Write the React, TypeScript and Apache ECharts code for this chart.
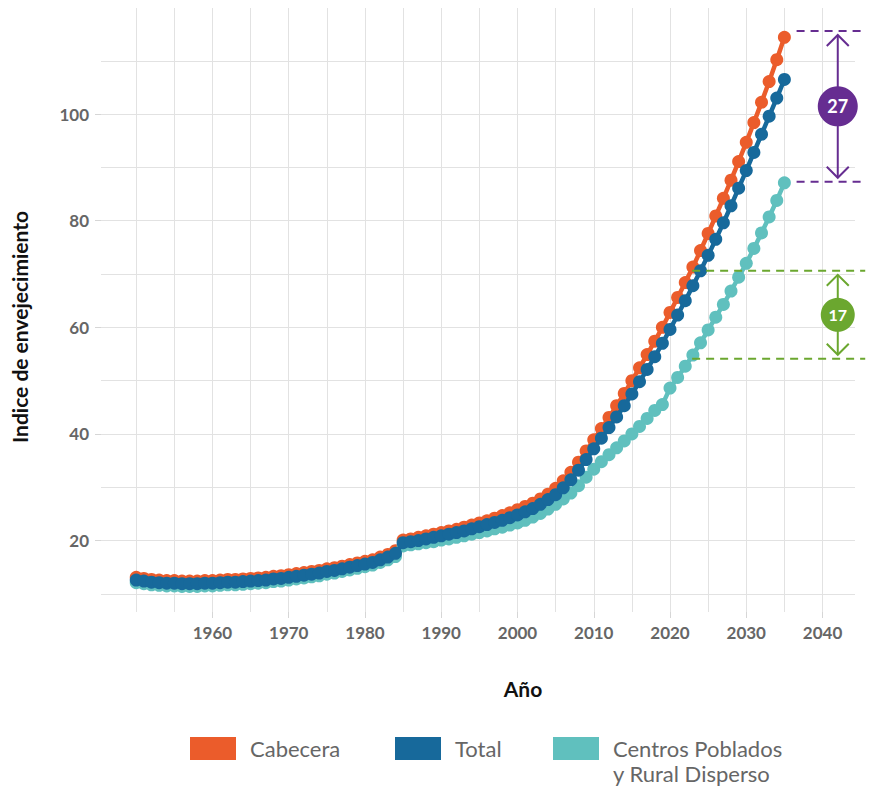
import React, { useEffect, useRef } from "react";
import * as echarts from "echarts";

const years = [
  1950, 1951, 1952, 1953, 1954, 1955, 1956, 1957, 1958, 1959,
  1960, 1961, 1962, 1963, 1964, 1965, 1966, 1967, 1968, 1969,
  1970, 1971, 1972, 1973, 1974, 1975, 1976, 1977, 1978, 1979,
  1980, 1981, 1982, 1983, 1984, 1985, 1986, 1987, 1988, 1989,
  1990, 1991, 1992, 1993, 1994, 1995, 1996, 1997, 1998, 1999,
  2000, 2001, 2002, 2003, 2004, 2005, 2006, 2007, 2008, 2009,
  2010, 2011, 2012, 2013, 2014, 2015, 2016, 2017, 2018, 2019,
  2020, 2021, 2022, 2023, 2024, 2025, 2026, 2027, 2028, 2029,
  2030, 2031, 2032, 2033, 2034, 2035,
];

const cabecera = [
  13.1, 12.9, 12.7, 12.6, 12.5, 12.5, 12.4, 12.4, 12.4, 12.5,
  12.5, 12.6, 12.7, 12.7, 12.8, 12.9, 13.0, 13.1, 13.3, 13.4,
  13.6, 13.8, 14.0, 14.2, 14.4, 14.7, 14.9, 15.2, 15.5, 15.8,
  16.1, 16.4, 16.9, 17.4, 18.1, 20.1, 20.3, 20.6, 20.9, 21.2,
  21.5, 21.8, 22.1, 22.5, 22.9, 23.3, 23.7, 24.2, 24.7, 25.2,
  25.8, 26.4, 27.0, 27.8, 28.7, 29.8, 31.2, 32.8, 34.7, 36.8,
  38.9, 41.0, 43.1, 45.3, 47.6, 50.0, 52.4, 54.9, 57.4, 60.0,
  62.8, 65.6, 68.4, 71.3, 74.4, 77.6, 80.9, 84.2, 87.6, 91.1,
  94.7, 98.4, 102.2, 106.1, 110.2, 114.4,
];

const total = [
  12.6, 12.4, 12.2, 12.1, 12.0, 12.0, 11.9, 11.9, 11.9, 12.0,
  12.0, 12.1, 12.2, 12.2, 12.3, 12.4, 12.5, 12.6, 12.8, 12.9,
  13.1, 13.3, 13.5, 13.7, 13.9, 14.2, 14.4, 14.7, 15.0, 15.3,
  15.6, 15.9, 16.4, 16.9, 17.6, 19.6, 19.8, 20.0, 20.3, 20.6,
  20.9, 21.2, 21.5, 21.8, 22.2, 22.6, 23.0, 23.4, 23.8, 24.3,
  24.8, 25.4, 26.0, 26.8, 27.7, 28.6, 29.9, 31.4, 33.2, 35.2,
  37.2, 39.2, 41.2, 43.2, 45.3, 47.5, 49.8, 52.1, 54.5, 57.0,
  59.6, 62.3, 65.0, 67.8, 70.6, 73.5, 76.5, 79.6, 82.8, 86.1,
  89.4, 92.8, 96.2, 99.6, 103.0, 106.5,
];

const centros = [
  12.1, 11.9, 11.7, 11.6, 11.5, 11.5, 11.4, 11.4, 11.4, 11.5,
  11.5, 11.6, 11.7, 11.7, 11.8, 11.9, 12.0, 12.1, 12.3, 12.4,
  12.6, 12.8, 13.0, 13.2, 13.4, 13.7, 13.9, 14.2, 14.5, 14.8,
  15.1, 15.4, 15.9, 16.4, 17.0, 19.0, 19.2, 19.4, 19.6, 19.8,
  20.1, 20.3, 20.6, 20.9, 21.2, 21.5, 21.8, 22.2, 22.5, 22.9,
  23.3, 23.8, 24.4, 25.1, 25.9, 26.8, 27.8, 28.9, 30.3, 31.9,
  33.4, 34.8, 36.1, 37.4, 38.7, 40.0, 41.4, 42.9, 44.4, 45.5,
  48.6, 50.6, 52.7, 54.8, 57.1, 59.5, 61.9, 64.3, 66.8, 69.4,
  72.0, 74.8, 77.7, 80.7, 83.8, 87.1,
];

const xGridValues = [1950, 1955, 1960, 1965, 1970, 1975, 1980, 1985, 1990, 1995, 2000, 2005, 2010, 2015, 2020, 2025, 2030, 2035, 2040];
const xLabelValues = [1960, 1970, 1980, 1990, 2000, 2010, 2020, 2030, 2040];
const yGridValues = [10, 20, 30, 40, 50, 60, 70, 80, 90, 100, 110];
const yLabelValues = [20, 40, 60, 80, 100];

const nameCabecera = "Cabecera";
const nameTotal = "Total";
const nameCentros = "Centros Poblados\ny Rural Disperso";

const xTitle = "Año";
const yTitle = "Indice de envejecimiento";

// Gap annotations (data units)
const gapCabeceraCentros2035 = { label: "27", upper: 115.6, lower: 87.3, startYear: 2036.6 };
const gapCabeceraCentros2023 = { label: "17", upper: 70.6, lower: 54.1, startYear: 2022.9 };
const annotationEndYear = 2045.6;
const arrowYear = 2042.0;

const COLORS = {
  cabecera: "#EB5C2B",
  total: "#17699B",
  centros: "#60C0BE",
  purple: "#662D91",
  green: "#6BA72F",
  grid: "#e2e2e2",
  tick: "#d6d6d6",
  label: "#666666",
};
const FONT = "Lato, 'Noto Sans', sans-serif";

export default function App() {
  const ref = useRef<HTMLDivElement>(null);

  useEffect(() => {
    if (!ref.current) return;
    const chart = echarts.init(ref.current, undefined, { renderer: "svg" });
    const xMin = 1945.38;
    const xMax = 2044.26;
    const yMin = 6.6;
    const yMax = 119.9;

    const mkSeries = (name: string, values: number[], color: string, z: number) => ({
      name,
      type: "line",
      xAxisIndex: 0,
      yAxisIndex: 0,
      data: years.map((yr, i) => [yr, values[i]]),
      symbol: "circle",
      symbolSize: 13,
      showSymbol: true,
      lineStyle: { color, width: 4.5 },
      itemStyle: { color },
      emphasis: { disabled: true },
      z,
    });

    const legendBase = {
      orient: "horizontal",
      padding: 0,
      itemWidth: 46,
      itemHeight: 23,
      icon: "rect",
      selectedMode: false,
    };
    const legendText = {
      fontFamily: FONT,
      fontSize: 22,
      color: COLORS.label,
      lineHeight: 23,
      padding: [0, 0, 0, 9],
    };

    chart.setOption({
      animation: false,
      grid: { left: 101, right: 15, top: 8, bottom: 176, containLabel: false },
      xAxis: [
        {
          type: "value",
          position: "bottom",
          min: xMin,
          max: xMax,
          axisLine: { show: false },
          axisTick: { show: false, customValues: xGridValues },
          axisLabel: { show: false },
          splitLine: { show: true, lineStyle: { color: COLORS.grid, width: 1 } },
        },
        {
          type: "value",
          position: "bottom",
          min: xMin,
          max: xMax,
          axisLine: { show: false },
          axisTick: { show: true, length: 6, customValues: xLabelValues, lineStyle: { color: COLORS.tick } },
          axisLabel: {
            customValues: xLabelValues,
            margin: 12,
            color: COLORS.label,
            fontFamily: FONT,
            fontWeight: "bold",
            fontSize: 17,
            formatter: (v: number) => String(v),
          },
          splitLine: { show: false },
        },
      ],
      yAxis: [
        {
          type: "value",
          position: "left",
          min: yMin,
          max: yMax,
          axisLine: { show: false },
          axisTick: { show: false, customValues: yGridValues },
          axisLabel: { show: false },
          splitLine: { show: true, lineStyle: { color: COLORS.grid, width: 1 } },
        },
        {
          type: "value",
          position: "left",
          min: yMin,
          max: yMax,
          axisLine: { show: false },
          axisTick: { show: true, length: 6, customValues: yLabelValues, lineStyle: { color: COLORS.tick } },
          axisLabel: {
            customValues: yLabelValues,
            margin: 12,
            color: COLORS.label,
            fontFamily: FONT,
            fontWeight: "bold",
            fontSize: 17,
          },
          splitLine: { show: false },
        },
      ],
      legend: [
        { ...legendBase, left: 190, top: 737, data: [nameCabecera], textStyle: legendText },
        { ...legendBase, left: 395, top: 737, data: [nameTotal], textStyle: legendText },
        {
          ...legendBase,
          left: 553,
          top: 711,
          data: [nameCentros],
          formatter: (n: string) => "\n" + n,
          textStyle: { ...legendText, lineHeight: 25 },
        },
      ],
      series: [
        mkSeries(nameCabecera, cabecera, COLORS.cabecera, 2),
        mkSeries(nameCentros, centros, COLORS.centros, 3),
        mkSeries(nameTotal, total, COLORS.total, 4),
      ],
      graphic: {
        elements: [
          {
            id: "xTitle",
            type: "text",
            x: 523,
            y: 688,
            style: {
              text: xTitle,
              fontFamily: FONT,
              fontWeight: "bold",
              fontSize: 21,
              fill: "#111111",
              align: "center",
              verticalAlign: "middle",
            },
          },
          {
            id: "yTitle",
            type: "text",
            x: 19,
            y: 327,
            rotation: Math.PI / 2,
            style: {
              text: yTitle,
              fontFamily: FONT,
              fontWeight: "bold",
              fontSize: 21,
              fill: "#111111",
              align: "center",
              verticalAlign: "middle",
            },
          },
        ],
      },
    });

    const toPx = (x: number, y: number) =>
      chart.convertToPixel({ xAxisIndex: 0, yAxisIndex: 0 }, [x, y]) as number[];

    const annos = [
      { g: gapCabeceraCentros2035, color: COLORS.purple, r: 20, fs: 18, id: "top" },
      { g: gapCabeceraCentros2023, color: COLORS.green, r: 17, fs: 16, id: "bot" },
    ];
    const elements: any[] = [];
    annos.forEach(({ g, color, r, fs, id }) => {
      const [xs, yU] = toPx(g.startYear, g.upper);
      const [xe, yL] = toPx(annotationEndYear, g.lower);
      const [ax, yc] = toPx(arrowYear, (g.upper + g.lower) / 2);
      const tipU = yU + 4;
      const tipL = yL - 4;
      const head = 11;
      const dash = { stroke: color, lineWidth: 2, lineDash: [8, 6] };
      const solid = { stroke: color, lineWidth: 2, fill: null };
      elements.push(
        { id: id + "du", type: "line", shape: { x1: xs, y1: yU, x2: xe, y2: yU }, style: dash, z: 10 },
        { id: id + "dl", type: "line", shape: { x1: xs, y1: yL, x2: xe, y2: yL }, style: dash, z: 10 },
        { id: id + "sh", type: "line", shape: { x1: ax, y1: tipU, x2: ax, y2: tipL }, style: solid, z: 10 },
        {
          id: id + "hu",
          type: "polyline",
          shape: { points: [[ax - head, tipU + head], [ax, tipU], [ax + head, tipU + head]] },
          style: solid,
          z: 10,
        },
        {
          id: id + "hl",
          type: "polyline",
          shape: { points: [[ax - head, tipL - head], [ax, tipL], [ax + head, tipL - head]] },
          style: solid,
          z: 10,
        },
        { id: id + "c", type: "circle", shape: { cx: ax, cy: yc, r }, style: { fill: color }, z: 11 },
        {
          id: id + "t",
          type: "text",
          x: ax,
          y: yc,
          z: 12,
          style: {
            text: g.label,
            fill: "#ffffff",
            fontFamily: FONT,
            fontWeight: "bold",
            fontSize: fs,
            align: "center",
            verticalAlign: "middle",
          },
        }
      );
    });
    chart.setOption({ graphic: { elements } });

    return () => chart.dispose();
  }, []);

  return (
    <div
      ref={ref}
      style={{ position: "fixed", left: 0, top: 0, width: 870, height: 788, background: "#ffffff" }}
    />
  );
}
